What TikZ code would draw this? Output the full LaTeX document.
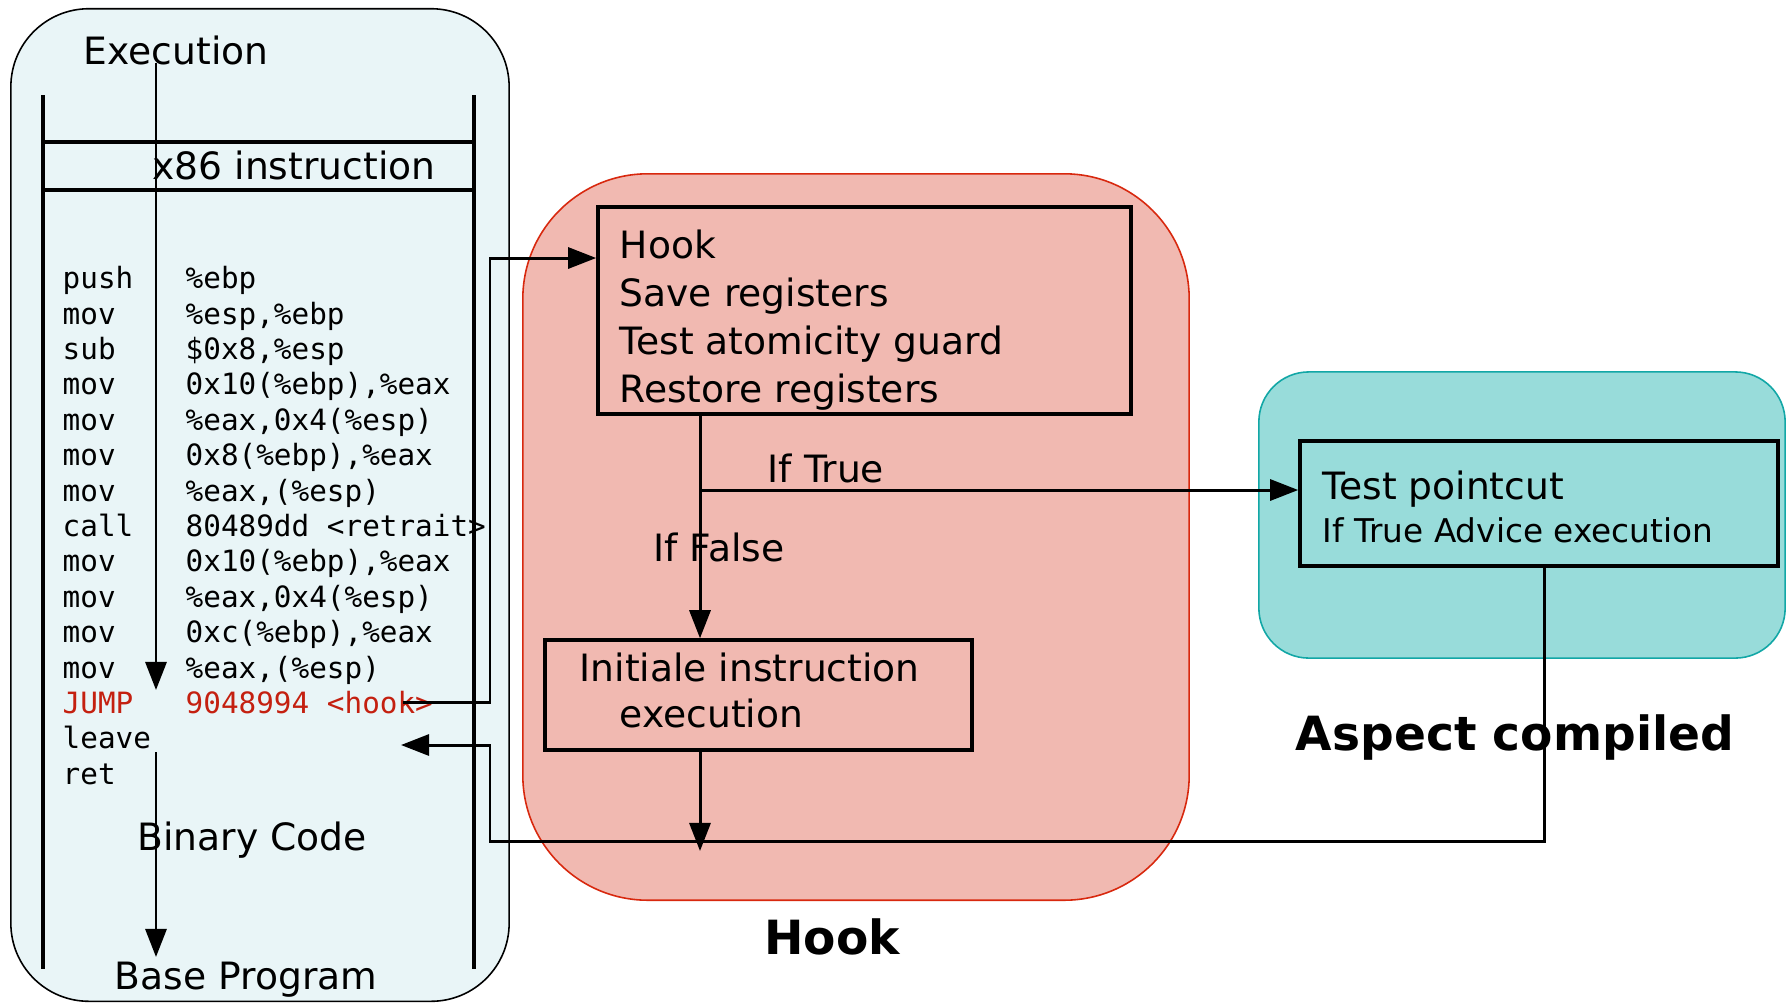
\documentclass[tikz,border=0pt]{standalone}
\usepackage{fontspec}
\setmainfont{DejaVu Sans}
\newfontfamily\codefont{DejaVu Sans Mono}
\usetikzlibrary{arrows.meta}
\definecolor{leftfill}{HTML}{E9F5F7}
\definecolor{hookfill}{HTML}{F1B9B1}
\definecolor{hookdraw}{HTML}{D8280E}
\definecolor{aspfill}{HTML}{98DCDA}
\definecolor{aspdraw}{HTML}{12A7A6}
\definecolor{jumpred}{HTML}{C42010}
\tikzset{
  arr/.style={line width=0.85pt, -{Triangle[length=8pt,width=6pt]}},
  bar/.style={line width=0.95pt},
  region/.style={rectangle, inner sep=0pt, line width=0.45pt},
  boxst/.style={draw, rectangle, inner sep=0pt, line width=0.95pt},
  txt/.style={inner sep=0pt, anchor=west, text height=0.73em, text depth=0pt, font={\fontsize{10.7}{12}\selectfont}},
  ctxt/.style={txt, anchor=center},
  small/.style={txt, font={\fontsize{9.3}{11}\selectfont}},
  bigbold/.style={inner sep=0pt, anchor=center, text height=0.73em, text depth=0pt, font={\fontsize{13.4}{15}\selectfont\bfseries}},
  code/.style={inner sep=0pt, anchor=west, text height=0.55em, text depth=0pt, font={\fontsize{8.34}{10}\selectfont\codefont}},
  redcode/.style={code, text=jumpred}
}
\begin{document}
\begin{tikzpicture}[x=0.01cm,y=-0.01cm]
\clip (0,0) rectangle (1787,1002);
\fill[white] (0,0) rectangle (1787,1002);

% regions
\node[region, draw=black, fill=leftfill, rounded corners=0.78cm, minimum width=4.98cm, minimum height=9.92cm] (basebox) at (260,505) {};
\node[region, draw=hookdraw, fill=hookfill, rounded corners=1.25cm, minimum width=6.66cm, minimum height=7.26cm] (hookreg) at (856,537) {};
\node[region, draw=aspdraw, fill=aspfill, rounded corners=0.5cm, minimum width=5.26cm, minimum height=2.86cm] (aspreg) at (1522,515) {};

% table lines in base program
\coordinate (tl) at (43,95);
\coordinate (tr) at (474,95);
\coordinate (bl) at (43,969);
\coordinate (br0) at (474,969);
\draw[bar] (tl) -- (bl);
\draw[bar] (tr) -- (br0);
\coordinate (h1l) at (43,142);
\coordinate (h1r) at (474,142);
\coordinate (h2l) at (43,190);
\coordinate (h2r) at (474,190);
\draw[bar] (h1l) -- (h1r);
\draw[bar] (h2l) -- (h2r);

\node[ctxt] (exec) at (176,52) {Execution};
\node[ctxt] (x86) at (294,167) {x86 instruction};
\node[ctxt] (binary) at (252,838) {Binary Code};
\node[ctxt] (baseprog) at (246,977) {Base Program};

% code
\node[code] (m1) at (62,279) {push};   \node[code] (o1) at (185,279) {\%ebp};
\node[code] (m2) at (62,314.4) {mov};  \node[code] (o2) at (185,314.4) {\%esp,\%ebp};
\node[code] (m3) at (62,349.8) {sub};  \node[code] (o3) at (185,349.8) {\$0x8,\%esp};
\node[code] (m4) at (62,385.2) {mov};  \node[code] (o4) at (185,385.2) {0x10(\%ebp),\%eax};
\node[code] (m5) at (62,420.6) {mov};  \node[code] (o5) at (185,420.6) {\%eax,0x4(\%esp)};
\node[code] (m6) at (62,456) {mov};    \node[code] (o6) at (185,456) {0x8(\%ebp),\%eax};
\node[code] (m7) at (62,491.4) {mov};  \node[code] (o7) at (185,491.4) {\%eax,(\%esp)};
\node[code] (m8) at (62,526.8) {call}; \node[code] (o8) at (185,526.8) {80489dd <retrait>};
\node[code] (m9) at (62,562.2) {mov};  \node[code] (o9) at (185,562.2) {0x10(\%ebp),\%eax};
\node[code] (m10) at (62,597.6) {mov}; \node[code] (o10) at (185,597.6) {\%eax,0x4(\%esp)};
\node[code] (m11) at (62,633) {mov};   \node[code] (o11) at (185,633) {0xc(\%ebp),\%eax};
\node[code] (m12) at (62,668.4) {mov}; \node[code] (o12) at (185,668.4) {\%eax,(\%esp)};
\node[redcode] (m13) at (62,703.8) {JUMP}; \node[redcode] (o13) at (185,703.8) {9048994 <hook>};
\node[code] (m14) at (62,739.2) {leave};
\node[code] (m15) at (62,774.6) {ret};

% execution arrows
\coordinate (e1) at (156,63);
\coordinate (e2) at (156,690);
\draw[arr] (e1) -- (e2);
\coordinate (e3) at (156,752);
\coordinate (e4) at (156,957);
\draw[arr] (e3) -- (e4);

% hook boxes
\node[boxst] (hookbox) at (864.5,310.5) [minimum width=5.33cm, minimum height=2.07cm] {};
\node[txt] (hk1) at (619,246) {Hook};
\node[txt] (hk2) at (619,294) {Save registers};
\node[txt] (hk3) at (619,342) {Test atomicity guard};
\node[txt] (hk4) at (619,390) {Restore registers};

\node[boxst] (initbox) at (758.5,695) [minimum width=4.27cm, minimum height=1.10cm] {};
\node[txt] (in1) at (579,669) {Initiale instruction};
\node[txt] (in2) at (619,715) {execution};

\node[boxst] (tpbox) at (1539,503.5) [minimum width=4.78cm, minimum height=1.25cm] {};
\node[txt] (tp1) at (1322,487) {Test pointcut};
\node[small] (tp2) at (1322,530) {If True Advice execution};

\node[ctxt] (iftrue) at (826,470) {If True};
\node[ctxt] (iffalse) at (719,549) {If False};

\node[bigbold] (hooklbl) at (832,942) {Hook};
\node[bigbold] (asplbl) at (1515,738) {Aspect compiled};

% connectors
\coordinate (ax) at (700,0);
\draw[arr] (hookbox.south -| ax) -- (initbox.north -| ax);
\coordinate (brn) at (700,490);
\draw[arr] (brn) -- (brn -| tpbox.west);
\coordinate (merge) at (700,851);
\draw[arr] (initbox.south -| ax) -- (merge);

\coordinate (jfrom) at (403,702);
\coordinate (jx) at (490,258);
\draw[arr] (jfrom) -| (jx) -- (jx -| hookbox.west);

\coordinate (tpout) at (1544,566);
\coordinate (rx) at (490,841);
\coordinate (leavein) at (401,745);
\draw[arr] (tpout) |- (rx) |- (leavein);
\end{tikzpicture}
\end{document}
